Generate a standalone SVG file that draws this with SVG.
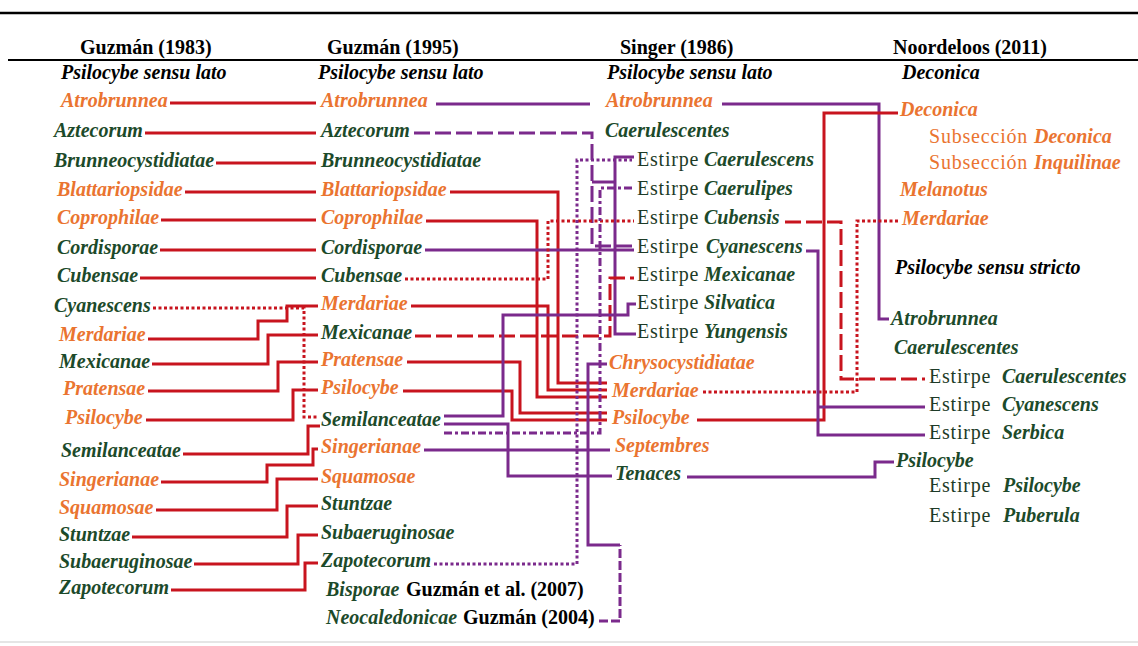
<svg xmlns="http://www.w3.org/2000/svg" width="1138" height="646" viewBox="0 0 1138 646">
<style>
text{font-family:"Liberation Serif","Times New Roman",serif;font-size:20px}
.bi{font-weight:bold;font-style:italic}
.o{fill:#ea7430}
.g{fill:#1c4a2a}
.k{fill:#000}
.hd{font-weight:bold;fill:#000}
.es{fill:#1d3b27;letter-spacing:0.8px}
.sb{fill:#ea7430;letter-spacing:0.8px}
.c path,.c line{fill:none;stroke-width:3}
.r{stroke:#c8141e}
.p{stroke:#7b2a8c}
.dot{stroke-dasharray:3 2.5}
.dash{stroke-dasharray:16 5}
.dd{stroke-dasharray:8 3 3 3}
.rule{stroke:#000;fill:none}
</style>
<rect width="1138" height="646" fill="#fff"/>
<g id="header">
<line class="rule" x1="0" y1="13" x2="1138" y2="13" stroke-width="2.5"/>
<line class="rule" x1="8" y1="60" x2="1138" y2="60" stroke-width="2"/>
<text class="hd" x="80" y="54">Guzmán (1983)</text>
<text class="hd" x="327" y="54">Guzmán (1995)</text>
<text class="hd" x="620" y="54">Singer (1986)</text>
<text class="hd" x="893" y="54">Noordeloos (2011)</text>
<text class="bi k" x="61" y="79">Psilocybe sensu lato</text>
<text class="bi k" x="318" y="79">Psilocybe sensu lato</text>
<text class="bi k" x="607" y="79">Psilocybe sensu lato</text>
<text class="bi k" x="902" y="79">Deconica</text>
<line x1="0" y1="642" x2="1138" y2="642" stroke="#ddd" stroke-width="1.5"/>
</g>
<g id="connectors" class="c">
<!-- Guzman 1983 -> Guzman 1995 -->
<path class="r" d="M170 103H316"/>
<path class="r" d="M145 133H316"/>
<path class="r" d="M216 163H316"/>
<path class="r" d="M185 192H316"/>
<path class="r" d="M161 220H316"/>
<path class="r" d="M160 250H316"/>
<path class="r" d="M140 278H316"/>
<path class="r dot" d="M153 308H304V417H318"/>
<path class="r" d="M148 339H258V321H287V306H318"/>
<path class="r" d="M152 364H268V335H318"/>
<path class="r" d="M148 391H278V362H318"/>
<path class="r" d="M146 420H293V390H318"/>
<path class="r" d="M183 454H308V426H320"/>
<path class="r" d="M161 482H267V465H313V449H318"/>
<path class="r" d="M156 510H277V479H318"/>
<path class="r" d="M132 537H287V506H318"/>
<path class="r" d="M194 564H298V535H318"/>
<path class="r" d="M171 590H305V563H318"/>
<!-- Guzman 1995 -> Singer 1986 -->
<path class="p" d="M436 104H590"/>
<path class="p dash" d="M414 133H592V246H634"/>
<path class="p" d="M592 182H615"/>
<path class="p" d="M634 157H615V334H636"/>
<path class="r" d="M450 192H558V383H607"/>
<path class="r" d="M426 221H537V397H607"/>
<path class="p" d="M425 250H634"/>
<path class="r dot" d="M405 279H548V221H634"/>
<path class="r" d="M411 306H548V390H607"/>
<path class="r dash" d="M415 336H610V278H634"/>
<path class="r" d="M407 362H520V413H607"/>
<path class="r" d="M403 391H512V420H607"/>
<path class="p" d="M444 416H503V315H628V304H636"/>
<path class="p" d="M444 424H508V476H612"/>
<path class="p dd" d="M444 433H600V188H634"/>
<path class="p" d="M424 450H610"/>
<path class="p dot" d="M434 564H577V160H632"/>
<path class="p" d="M620 545H588V364H607"/>
<path class="p" stroke-dasharray="9 3" d="M599 621H620V545"/>
<!-- Singer 1986 -> Noordeloos 2011 -->
<path class="p" d="M722 104H879V319H889"/>
<path class="r" d="M697 420H824V113H898"/>
<path class="r dash" d="M785 222H841V379H925"/>
<path class="r dot" d="M703 392H857V221H900"/>
<path class="p" d="M806 251H818V435H925"/>
<path class="p" d="M818 407H925"/>
<path class="p" d="M687 477H875V462H894"/>
</g>
<g id="guzman1983">
<text class="bi o" x="61" y="107">Atrobrunnea</text>
<text class="bi g" x="54" y="137">Aztecorum</text>
<text class="bi g" x="54" y="167">Brunneocystidiatae</text>
<text class="bi o" x="57" y="196">Blattariopsidae</text>
<text class="bi o" x="57" y="224">Coprophilae</text>
<text class="bi g" x="57" y="254">Cordisporae</text>
<text class="bi g" x="57" y="282">Cubensae</text>
<text class="bi g" x="54" y="312">Cyanescens</text>
<text class="bi o" x="59" y="341">Merdariae</text>
<text class="bi g" x="59" y="368">Mexicanae</text>
<text class="bi o" x="63" y="395">Pratensae</text>
<text class="bi o" x="65" y="424">Psilocybe</text>
<text class="bi g" x="61" y="457">Semilanceatae</text>
<text class="bi o" x="59" y="486">Singerianae</text>
<text class="bi o" x="59" y="514">Squamosae</text>
<text class="bi g" x="59" y="541">Stuntzae</text>
<text class="bi g" x="59" y="568">Subaeruginosae</text>
<text class="bi g" x="59" y="594">Zapotecorum</text>
</g>
<g id="guzman1995">
<text class="bi o" x="321" y="107">Atrobrunnea</text>
<text class="bi g" x="321" y="137">Aztecorum</text>
<text class="bi g" x="321" y="167">Brunneocystidiatae</text>
<text class="bi o" x="321" y="196">Blattariopsidae</text>
<text class="bi o" x="321" y="224">Coprophilae</text>
<text class="bi g" x="321" y="254">Cordisporae</text>
<text class="bi g" x="321" y="282">Cubensae</text>
<text class="bi o" x="321" y="310">Merdariae</text>
<text class="bi g" x="321" y="339">Mexicanae</text>
<text class="bi o" x="321" y="366">Pratensae</text>
<text class="bi o" x="321" y="394">Psilocybe</text>
<text class="bi g" x="321" y="426">Semilanceatae</text>
<text class="bi o" x="321" y="453">Singerianae</text>
<text class="bi o" x="321" y="483">Squamosae</text>
<text class="bi g" x="321" y="510">Stuntzae</text>
<text class="bi g" x="321" y="539">Subaeruginosae</text>
<text class="bi g" x="321" y="567">Zapotecorum</text>
<text x="326" y="596"><tspan class="bi g">Bisporae</tspan><tspan class="hd" x="406">Guzmán et al. (2007)</tspan></text>
<text x="326" y="624"><tspan class="bi g">Neocaledonicae</tspan><tspan class="hd" x="463">Guzmán (2004)</tspan></text>
</g>
<g id="singer1986">
<text class="bi o" x="606" y="107">Atrobrunnea</text>
<text class="bi g" x="605" y="137">Caerulescentes</text>
<text y="166"><tspan class="es" x="637">Estirpe</tspan><tspan class="bi g" x="704">Caerulescens</tspan></text>
<text y="195"><tspan class="es" x="637">Estirpe</tspan><tspan class="bi g" x="704">Caerulipes</tspan></text>
<text y="224"><tspan class="es" x="637">Estirpe</tspan><tspan class="bi g" x="704">Cubensis</tspan></text>
<text y="253"><tspan class="es" x="637">Estirpe</tspan><tspan class="bi g" x="706">Cyanescens</tspan></text>
<text y="281"><tspan class="es" x="637">Estirpe</tspan><tspan class="bi g" x="704">Mexicanae</tspan></text>
<text y="309"><tspan class="es" x="637">Estirpe</tspan><tspan class="bi g" x="704">Silvatica</tspan></text>
<text y="338"><tspan class="es" x="637">Estirpe</tspan><tspan class="bi g" x="704">Yungensis</tspan></text>
<text class="bi o" x="609" y="369">Chrysocystidiatae</text>
<text class="bi o" x="612" y="397">Merdariae</text>
<text class="bi o" x="612" y="424">Psilocybe</text>
<text class="bi o" x="615" y="452">Septembres</text>
<text class="bi g" x="615" y="480">Tenaces</text>
</g>
<g id="noordeloos2011">
<text class="bi o" x="900" y="116">Deconica</text>
<text y="143"><tspan class="sb" x="929">Subsección</tspan><tspan class="bi o" x="1034">Deconica</tspan></text>
<text y="169"><tspan class="sb" x="929">Subsección</tspan><tspan class="bi o" x="1034">Inquilinae</tspan></text>
<text class="bi o" x="900" y="196">Melanotus</text>
<text class="bi o" x="902" y="225">Merdariae</text>
<text class="bi k" x="895" y="274">Psilocybe sensu stricto</text>
<text class="bi g" x="891" y="325">Atrobrunnea</text>
<text class="bi g" x="894" y="354">Caerulescentes</text>
<text y="383"><tspan class="es" x="929">Estirpe</tspan><tspan class="bi g" x="1002">Caerulescentes</tspan></text>
<text y="411"><tspan class="es" x="929">Estirpe</tspan><tspan class="bi g" x="1002">Cyanescens</tspan></text>
<text y="439"><tspan class="es" x="929">Estirpe</tspan><tspan class="bi g" x="1002">Serbica</tspan></text>
<text class="bi g" x="896" y="467">Psilocybe</text>
<text y="492"><tspan class="es" x="929">Estirpe</tspan><tspan class="bi g" x="1003">Psilocybe</tspan></text>
<text y="522"><tspan class="es" x="929">Estirpe</tspan><tspan class="bi g" x="1003">Puberula</tspan></text>
</g>
</svg>
